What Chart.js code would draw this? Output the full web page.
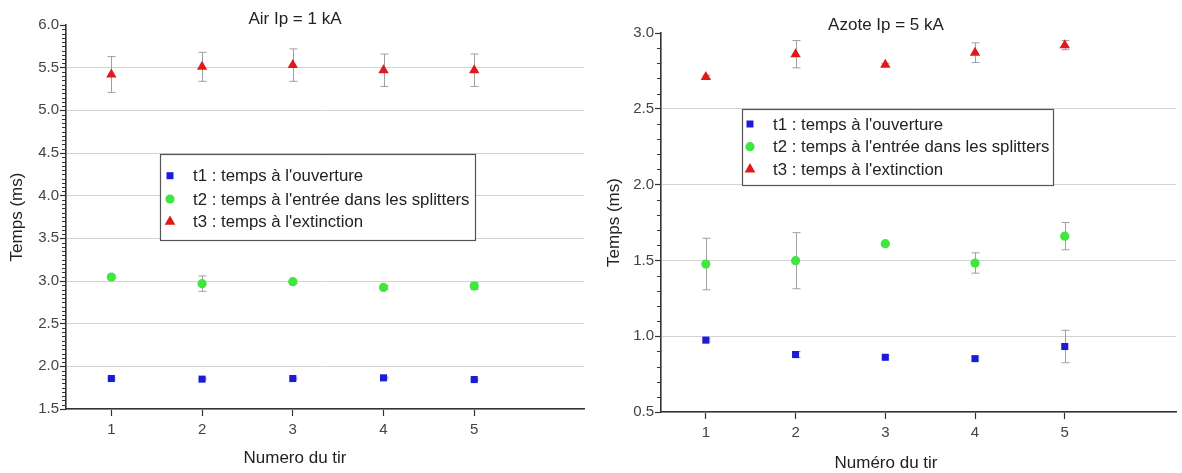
<!DOCTYPE html>
<html>
<head>
<meta charset="utf-8">
<script src="https://cdn.jsdelivr.net/npm/chart.js@4/dist/chart.umd.min.js"></script>
<style>
  html, body { margin: 0; padding: 0; background: #ffffff; }
  #wrap { position: relative; width: 1182px; height: 473px; overflow: hidden; background: #fff; }
  #leftBox { position: absolute; left: 0; top: 0; width: 590px; height: 473px; }
  #rightBox { position: absolute; left: 590px; top: 0; width: 592px; height: 473px; }
</style>
</head>
<body>
<div id="wrap">
  <div id="leftBox"><canvas id="cAir" width="590" height="473"></canvas></div>
  <div id="rightBox"><canvas id="cAzote" width="592" height="473"></canvas></div>
</div>
<script>
// ---------------- DATA ----------------
const categories = [1, 2, 3, 4, 5];
const seriesLabels = [
  "t1 : temps à l'ouverture",
  "t2 : temps à l'entrée dans les splitters",
  "t3 : temps à l'extinction"
];

// Air Ip = 1 kA
const airT1 = [1.857, 1.850, 1.857, 1.865, 1.845];
const airT1Err = [0.01, 0.01, 0.01, 0.01, 0.01];
const airT2 = [3.047, 2.969, 2.992, 2.925, 2.940];
const airT2Err = [0.02, 0.09, 0.02, 0.02, 0.04];
const airT3 = [5.42, 5.51, 5.53, 5.47, 5.47];
const airT3Err = [0.21, 0.17, 0.19, 0.19, 0.19];
const airYTicks = [1.5, 2.0, 2.5, 3.0, 3.5, 4.0, 4.5, 5.0, 5.5, 6.0];

// Azote Ip = 5 kA
const azoteT1 = [0.974, 0.879, 0.861, 0.852, 0.932];
const azoteT1Err = [0.01, 0.02, 0.01, 0.01, 0.107];
const azoteT2 = [1.476, 1.498, 1.610, 1.483, 1.660];
const azoteT2Err = [0.17, 0.185, 0.01, 0.067, 0.09];
const azoteT3 = [2.71, 2.86, 2.79, 2.87, 2.92];
const azoteT3Err = [0.01, 0.09, 0.01, 0.065, 0.03];
const azoteYTicks = [0.5, 1.0, 1.5, 2.0, 2.5, 3.0];

// ---------------- STYLES ----------------
const FONT = "'Liberation Sans', Arial, Helvetica, sans-serif";
const COLORS = ['#1c1cd8', '#3ee63e', '#e01a1a'];
const STYLES = ['rect', 'circle', 'triangle'];
const RADII = [5, 4.6, 6];
const ERR_COLOR = '#a0a0a0';
const AXIS_COLOR = '#333333';

function makeDatasets(vals, errs) {
  return vals.map((arr, i) => ({
    label: seriesLabels[i],
    data: categories.map((c, j) => ({ x: c, y: arr[j] })),
    errors: errs[i],
    showLine: false,
    pointStyle: STYLES[i],
    pointRadius: RADII[i],
    pointHoverRadius: RADII[i],
    backgroundColor: COLORS[i],
    borderColor: COLORS[i],
    borderWidth: 0
  }));
}

// error bars plugin
const errorBars = {
  id: 'errorBars',
  beforeDatasetsDraw(chart) {
    const ctx = chart.ctx;
    const ys = chart.scales.y;
    ctx.save();
    ctx.strokeStyle = ERR_COLOR;
    ctx.lineWidth = 1;
    chart.data.datasets.forEach((ds, i) => {
      const meta = chart.getDatasetMeta(i);
      meta.data.forEach((pt, j) => {
        const v = ds.data[j].y, e = ds.errors[j];
        const x = Math.round(pt.x) + 0.5;
        const yt = ys.getPixelForValue(v + e);
        const yb = ys.getPixelForValue(v - e);
        ctx.beginPath();
        ctx.moveTo(x, yt); ctx.lineTo(x, yb);
        ctx.moveTo(x - 4, yt); ctx.lineTo(x + 4, yt);
        ctx.moveTo(x - 4, yb); ctx.lineTo(x + 4, yb);
        ctx.stroke();
      });
    });
    ctx.restore();
  }
};

// minor ticks on y axis
const minorTicks = {
  id: 'minorTicks',
  afterDraw(chart, args, opts) {
    const ys = chart.scales.y;
    const ctx = chart.ctx;
    const step = opts.step;
    ctx.save();
    ctx.strokeStyle = AXIS_COLOR;
    ctx.lineWidth = 1;
    const n = Math.round((ys.max - ys.min) / step);
    for (let k = 0; k <= n; k++) {
      const v = ys.min + k * step;
      const r = v / 0.5;
      if (Math.abs(r - Math.round(r)) < 1e-6) continue;
      const y = Math.round(ys.getPixelForValue(v)) + 0.5;
      ctx.beginPath();
      ctx.moveTo(ys.right - 4, y);
      ctx.lineTo(ys.right, y);
      ctx.stroke();
    }
    ctx.restore();
  }
};

// legend box plugin
const boxLegend = {
  id: 'boxLegend',
  afterDraw(chart, args, o) {
    const ctx = chart.ctx;
    ctx.save();
    ctx.fillStyle = '#ffffff';
    ctx.fillRect(o.x, o.y, o.w, o.h);
    ctx.strokeStyle = '#555555';
    ctx.lineWidth = 1.2;
    ctx.strokeRect(o.x + 0.5, o.y + 0.5, o.w, o.h);
    ctx.font = o.fontSize + 'px ' + FONT;
    ctx.textBaseline = 'middle';
    ctx.textAlign = 'left';
    chart.data.datasets.forEach((ds, i) => {
      const cy = o.rowY[i];
      const cx = o.markerX;
      ctx.fillStyle = ds.backgroundColor;
      ctx.beginPath();
      if (ds.pointStyle === 'rect') {
        ctx.rect(cx - 3.5, cy - 3.5, 7, 7);
      } else if (ds.pointStyle === 'circle') {
        ctx.arc(cx, cy, 4.6, 0, Math.PI * 2);
      } else {
        const r = 6.2;
        ctx.moveTo(cx, cy - r);
        ctx.lineTo(cx + r * Math.sin(2 * Math.PI / 3), cy - r * Math.cos(2 * Math.PI / 3));
        ctx.lineTo(cx + r * Math.sin(4 * Math.PI / 3), cy - r * Math.cos(4 * Math.PI / 3));
        ctx.closePath();
      }
      ctx.fill();
      ctx.fillStyle = '#222222';
      ctx.fillText(ds.label, o.textX, cy + 1);
    });
    ctx.restore();
  }
};

function makeOptions(cfg) {
  return {
    responsive: false,
    animation: false,
    devicePixelRatio: 1,
    layout: { padding: 0 },
    plugins: {
      legend: { display: false },
      tooltip: { enabled: false },
      title: {
        display: true,
        text: cfg.title,
        fullSize: true,
        color: '#222222',
        font: { family: FONT, size: 17, weight: 'normal', lineHeight: 1 },
        padding: cfg.titlePadding
      },
      subtitle: {
        display: true,
        position: 'bottom',
        text: cfg.xTitle,
        fullSize: true,
        color: '#222222',
        font: { family: FONT, size: 17, weight: 'normal', lineHeight: 1 },
        padding: cfg.xTitlePadding
      },
      minorTicks: { step: cfg.minorStep },
      boxLegend: cfg.legend
    },
    scales: {
      x: {
        type: 'linear',
        min: 0.5,
        max: cfg.xMax,
        afterBuildTicks: (s) => { s.ticks = categories.map(v => ({ value: v })); },
        afterFit: (s) => { s.height = cfg.xHeight; },
        grid: { drawOnChartArea: false, drawTicks: true, tickLength: 7, tickColor: AXIS_COLOR, tickWidth: 1.2 },
        border: { display: true, color: AXIS_COLOR, width: 1.6 },
        ticks: { color: '#444444', padding: 5, font: { family: FONT, size: 15 }, callback: v => String(v) },
        title: { display: false }
      },
      y: {
        type: 'linear',
        min: cfg.yTicks[0],
        max: cfg.yTicks[cfg.yTicks.length - 1],
        afterBuildTicks: (s) => { s.ticks = cfg.yTicks.map(v => ({ value: v })); },
        afterFit: (s) => { s.width = cfg.yWidth; },
        grid: {
          drawOnChartArea: true,
          drawTicks: true,
          tickLength: 6,
          tickColor: AXIS_COLOR,
          tickWidth: 1.2,
          color: (c) => (c.tick && Math.abs(c.tick.value - cfg.yTicks[cfg.yTicks.length - 1]) < 1e-9) ? 'rgba(0,0,0,0)' : '#d2d2d2',
          lineWidth: 1
        },
        border: { display: true, color: AXIS_COLOR, width: 1.6 },
        ticks: { color: '#444444', padding: 1, font: { family: FONT, size: 15 }, callback: v => Number(v).toFixed(1) },
        title: {
          display: true,
          text: 'Temps (ms)',
          color: '#222222',
          font: { family: FONT, size: 17, lineHeight: 1 },
          padding: { top: cfg.yTitlePad, bottom: 0 }
        }
      }
    }
  };
}

new Chart(document.getElementById('cAir'), {
  type: 'scatter',
  data: { datasets: makeDatasets([airT1, airT2, airT3], [airT1Err, airT2Err, airT3Err]) },
  options: makeOptions({
    title: 'Air Ip = 1 kA',
    titlePadding: { top: 10.5, bottom: -2.5 },
    xTitle: 'Numero du tir',
    xTitlePadding: { top: 0, bottom: 6.5 },
    xMax: 6.21,
    xHeight: 40.5,
    yTicks: airYTicks,
    yWidth: 66,
    yTitlePad: 8.5,
    minorStep: 0.05,
    legend: { x: 160, y: 154, w: 315, h: 86, markerX: 170, textX: 193, rowY: [175.7, 199, 221.7], fontSize: 16.8 }
  }),
  plugins: [errorBars, minorTicks, boxLegend]
});

new Chart(document.getElementById('cAzote'), {
  type: 'scatter',
  data: { datasets: makeDatasets([azoteT1, azoteT2, azoteT3], [azoteT1Err, azoteT2Err, azoteT3Err]) },
  options: makeOptions({
    title: 'Azote Ip = 5 kA',
    titlePadding: { top: 16.5, bottom: -0.5 },
    xTitle: 'Numéro du tir',
    xTitlePadding: { top: 0, bottom: 1.5 },
    xMax: 6.24,
    xHeight: 42.5,
    yTicks: azoteYTicks,
    yWidth: 71,
    yTitlePad: 15.5,
    minorStep: 0.1,
    legend: { x: 152, y: 109, w: 311, h: 76, markerX: 160, textX: 183, rowY: [124, 146.7, 169.3], fontSize: 16.8 }
  }),
  plugins: [errorBars, minorTicks, boxLegend]
});
</script>
</body>
</html>
